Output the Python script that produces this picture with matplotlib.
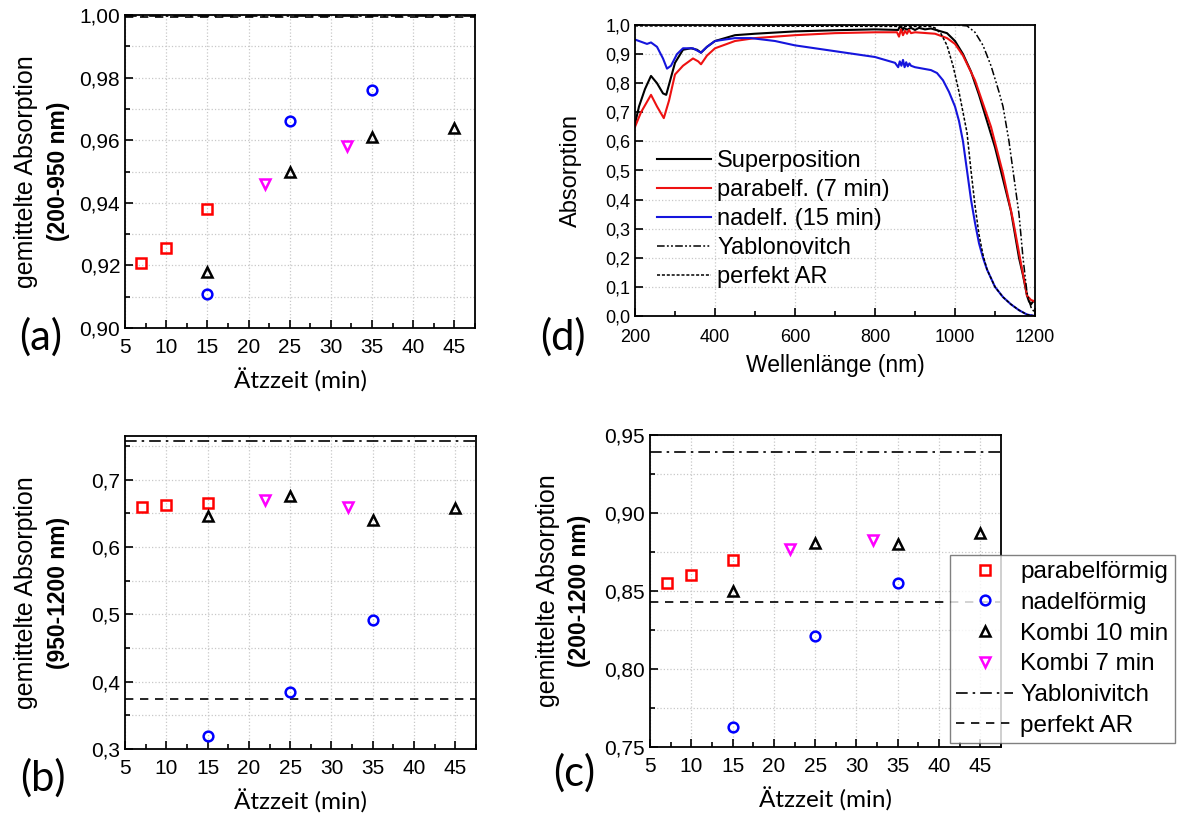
import matplotlib
matplotlib.use('Agg')
import matplotlib.pyplot as plt
from matplotlib.ticker import MultipleLocator, FuncFormatter

plt.rcParams['font.family'] = ['Liberation Sans', 'DejaVu Sans']

# etching times (min) per structure type
t_para = [7, 10, 15]
t_nadel = [15, 25, 35]
t_kombi10 = [15, 25, 35, 45]
t_kombi7 = [22, 32]

# averaged absorption 200-950 nm
a_para = [0.9207, 0.9255, 0.938]
a_nadel = [0.911, 0.966, 0.976]
a_kombi10 = [0.918, 0.950, 0.961, 0.964]
a_kombi7 = [0.946, 0.958]
a_yablo = 0.9998
a_perfekt = 0.9994

# averaged absorption 950-1200 nm
b_para = [0.659, 0.663, 0.665]
b_nadel = [0.320, 0.385, 0.491]
b_kombi10 = [0.646, 0.676, 0.640, 0.658]
b_kombi7 = [0.670, 0.659]
b_yablo = 0.758
b_perfekt = 0.374

# averaged absorption 200-1200 nm
c_para = [0.855, 0.860, 0.870]
c_nadel = [0.763, 0.821, 0.855]
c_kombi10 = [0.850, 0.881, 0.880, 0.887]
c_kombi7 = [0.877, 0.883]
c_yablo = 0.939
c_perfekt = 0.843

# absorption spectra
wl_super = [200, 210, 225, 240, 255, 270, 278, 290, 300, 320, 340, 355, 365, 380, 400, 450,
            500, 600, 700, 800, 858, 862, 865, 868, 872, 880, 890, 900, 910, 925, 940, 960,
            980, 1000, 1020, 1040, 1060, 1080, 1100, 1120, 1140, 1160, 1170, 1180, 1185,
            1190, 1195, 1200]
ab_super = [0.66, 0.72, 0.78, 0.825, 0.80, 0.765, 0.76, 0.82, 0.87, 0.915, 0.92, 0.915,
            0.905, 0.925, 0.945, 0.965, 0.97, 0.978, 0.982, 0.985, 0.983, 0.995, 1.0, 0.98,
            0.99, 0.984, 0.99, 0.983, 0.99, 0.985, 0.988, 0.98, 0.972, 0.945, 0.90, 0.84,
            0.76, 0.67, 0.58, 0.47, 0.36, 0.20, 0.14, 0.07, 0.05, 0.04, 0.05, 0.05]

wl_para = [200, 215, 240, 255, 272, 285, 300, 320, 345, 358, 365, 380, 400, 450, 500, 600,
           700, 800, 855, 860, 865, 870, 875, 880, 885, 890, 900, 950, 980, 1000, 1020,
           1050, 1070, 1090, 1120, 1145, 1165, 1175, 1180, 1190, 1200]
ab_para = [0.65, 0.70, 0.76, 0.72, 0.68, 0.74, 0.83, 0.86, 0.885, 0.875, 0.865, 0.895,
           0.92, 0.945, 0.955, 0.965, 0.972, 0.975, 0.975, 0.96, 0.985, 0.965, 0.98, 0.97,
           0.983, 0.972, 0.975, 0.97, 0.955, 0.935, 0.895, 0.81, 0.73, 0.65, 0.49, 0.33,
           0.18, 0.11, 0.07, 0.055, 0.05]

wl_nadel = [200, 220, 230, 240, 255, 270, 280, 290, 305, 320, 345, 365, 380, 400, 450, 490,
            550, 600, 700, 800, 850, 858, 862, 866, 870, 874, 878, 882, 886, 890, 900, 920,
            940, 955, 970, 985, 1000, 1010, 1020, 1030, 1040, 1050, 1060, 1070, 1080,
            1100, 1120, 1140, 1160, 1180, 1200]
ab_nadel = [0.95, 0.94, 0.935, 0.94, 0.925, 0.885, 0.85, 0.86, 0.90, 0.92, 0.92, 0.905,
            0.925, 0.945, 0.955, 0.955, 0.945, 0.93, 0.91, 0.89, 0.87, 0.855, 0.875, 0.86,
            0.88, 0.855, 0.872, 0.858, 0.868, 0.86, 0.855, 0.85, 0.845, 0.835, 0.81, 0.77,
            0.72, 0.67, 0.60, 0.50, 0.40, 0.32, 0.25, 0.20, 0.16, 0.10, 0.065, 0.04, 0.02,
            0.005, 0.0]

wl_yablo = [200, 1000, 1030, 1050, 1070, 1090, 1110, 1120, 1135, 1150, 1160, 1170, 1180,
            1190, 1200]
ab_yablo = [1.0, 1.0, 0.997, 0.975, 0.93, 0.86, 0.77, 0.72, 0.60, 0.45, 0.35, 0.20, 0.08,
            0.03, 0.01]

wl_perfekt = [200, 940, 950, 965, 980, 995, 1010, 1020, 1030, 1040, 1050, 1060, 1070,
              1080, 1100, 1120, 1140, 1160, 1180, 1200]
ab_perfekt = [0.997, 0.995, 0.99, 0.97, 0.93, 0.86, 0.77, 0.70, 0.63, 0.50, 0.38, 0.28,
              0.21, 0.16, 0.10, 0.065, 0.04, 0.02, 0.005, 0.0]

W, H = 1183, 813


def rect(left, top, right, bottom):
    return [left / W, 1 - bottom / H, (right - left) / W, (bottom - top) / H]


def comma(dec):
    return FuncFormatter(lambda v, p: f"{v:.{dec}f}".replace('.', ','))


def style_axes(ax, tick_size):
    for s in ax.spines.values():
        s.set_linewidth(1.3)
    ax.tick_params(which='both', direction='in', top=False, right=False,
                   labelsize=tick_size, width=1.2)
    ax.tick_params(which='major', length=6)
    ax.tick_params(which='minor', length=3.5)
    ax.tick_params(axis='x', pad=7)
    ax.grid(True, which='major', color='#c8c8c8', linestyle=':', linewidth=0.9)
    ax.set_axisbelow(True)


def scatter_panel(ax, para, nadel, kombi10, kombi7, yablo, perfekt):
    ms = 7.5
    mew = 1.8
    ax.axhline(yablo, color='black', linestyle=(0, (7, 3, 1.5, 3)), linewidth=1.2,
               label='Yablonivitch')
    ax.axhline(perfekt, color='black', linestyle=(0, (5, 4)), linewidth=1.2,
               label='perfekt AR')
    ax.plot(t_para, para, 's', mfc='none', mec='red', ms=ms - 1, mew=mew,
            label='parabelförmig')
    ax.plot(t_nadel, nadel, 'o', mfc='none', mec='blue', ms=ms - 0.5, mew=mew,
            label='nadelförmig')
    ax.plot(t_kombi10, kombi10, '^', mfc='none', mec='black', ms=ms, mew=mew,
            label='Kombi 10 min')
    ax.plot(t_kombi7, kombi7, 'v', mfc='none', mec='magenta', ms=ms, mew=mew,
            label='Kombi 7 min')
    ax.set_xlim(5, 47.5)
    ax.xaxis.set_major_locator(MultipleLocator(5))
    ax.xaxis.set_minor_locator(MultipleLocator(2.5))
    style_axes(ax, 15)
    ax.grid(True, which='minor', axis='y', color='#c8c8c8', linestyle=':', linewidth=0.9)
    ax.set_xlabel('Ätzzeit (min)', family=['Lato', 'DejaVu Sans'], fontsize=17.5, va='center')
    ax.xaxis.set_label_coords(0.5, -0.168)


def two_line_ylabel(ax, rng, x):
    ax.text(x - 0.092, 0.5, 'gemittelte Absorption', transform=ax.transAxes,
            rotation=90, ha='center', va='center', fontsize=18)
    ax.text(x, 0.5, f'({rng} nm)', transform=ax.transAxes, rotation=90,
            ha='center', va='center', fontsize=16.5, fontweight='bold')


fig = plt.figure(figsize=(W / 100, H / 100), dpi=100)

# (a)
ax_a = fig.add_axes(rect(125, 15, 475, 328))
scatter_panel(ax_a, a_para, a_nadel, a_kombi10, a_kombi7, a_yablo, a_perfekt)
ax_a.set_ylim(0.90, 1.00)
ax_a.yaxis.set_major_locator(MultipleLocator(0.02))
ax_a.yaxis.set_minor_locator(MultipleLocator(0.01))
ax_a.yaxis.set_major_formatter(comma(2))
two_line_ylabel(ax_a, '200-950', -0.19)

# (b)
ax_b = fig.add_axes(rect(125, 436, 476, 749))
scatter_panel(ax_b, b_para, b_nadel, b_kombi10, b_kombi7, b_yablo, b_perfekt)
ax_b.set_ylim(0.30, 0.765)
ax_b.yaxis.set_major_locator(MultipleLocator(0.1))
ax_b.yaxis.set_minor_locator(MultipleLocator(0.05))
ax_b.yaxis.set_major_formatter(comma(1))
two_line_ylabel(ax_b, '950-1200', -0.19)

# (c)
ax_c = fig.add_axes(rect(650, 435, 1001, 747))
scatter_panel(ax_c, c_para, c_nadel, c_kombi10, c_kombi7, c_yablo, c_perfekt)
ax_c.set_ylim(0.75, 0.95)
ax_c.yaxis.set_major_locator(MultipleLocator(0.05))
ax_c.yaxis.set_minor_locator(MultipleLocator(0.025))
ax_c.yaxis.set_major_formatter(comma(2))
two_line_ylabel(ax_c, '200-1200', -0.2)
h, l = ax_c.get_legend_handles_labels()
order = [2, 3, 4, 5, 0, 1]
leg_c = ax_c.legend([h[i] for i in order], [l[i] for i in order],
                    loc='upper left', bbox_to_anchor=(950 / W, 1 - 555 / H),
                    bbox_transform=fig.transFigure, fontsize=17.5, frameon=True,
                    fancybox=False, edgecolor='#606060', borderpad=0.25,
                    labelspacing=0.36, handlelength=2.35, handletextpad=0.3,
                    borderaxespad=0)
leg_c.get_frame().set_linewidth(1.0)

# (d)
ax_d = fig.add_axes(rect(635, 25, 1035, 316))
ax_d.plot(wl_super, ab_super, color='black', lw=1.5, label='Superposition')
ax_d.plot(wl_para, ab_para, color='#ee1111', lw=1.5, label='parabelf. (7 min)')
ax_d.plot(wl_nadel, ab_nadel, color='#1515dd', lw=1.5, label='nadelf. (15 min)')
ax_d.plot(wl_yablo, ab_yablo, color='black', lw=1.1, linestyle=(0, (5, 1.5, 1.2, 1.5, 1.2, 1.5)),
          label='Yablonovitch')
ax_d.plot(wl_perfekt, ab_perfekt, color='black', lw=1.1, linestyle=(0, (2, 1.2)),
          label='perfekt AR')
ax_d.set_xlim(200, 1200)
ax_d.set_ylim(0, 1.0)
ax_d.xaxis.set_major_locator(MultipleLocator(200))
ax_d.xaxis.set_minor_locator(MultipleLocator(100))
ax_d.yaxis.set_major_locator(MultipleLocator(0.1))
ax_d.yaxis.set_major_formatter(comma(1))
style_axes(ax_d, 13)
ax_d.tick_params(axis='x', pad=9)
ax_d.set_xlabel('Wellenlänge (nm)', fontsize=16.5, va='center')
ax_d.xaxis.set_label_coords(0.5, -0.17)
ax_d.set_ylabel('Absorption', fontsize=17, va='center')
ax_d.yaxis.set_label_coords(-0.16, 0.5)
ax_d.legend(loc='upper left', bbox_to_anchor=(0.055, 0.57), fontsize=17, frameon=False,
            labelspacing=0.3, handlelength=2.3, handletextpad=0.25, borderaxespad=0,
            borderpad=0)

# panel letters
for s, x, y in [('(a)', 41, 337), ('(b)', 43, 778), ('(c)', 574, 773), ('(d)', 563, 337)]:
    fig.text(x / W, 1 - y / H, s, fontsize=30, family=['Lato', 'DejaVu Sans'],
             ha='center', va='center')

fig.savefig('out.png', dpi=100)
